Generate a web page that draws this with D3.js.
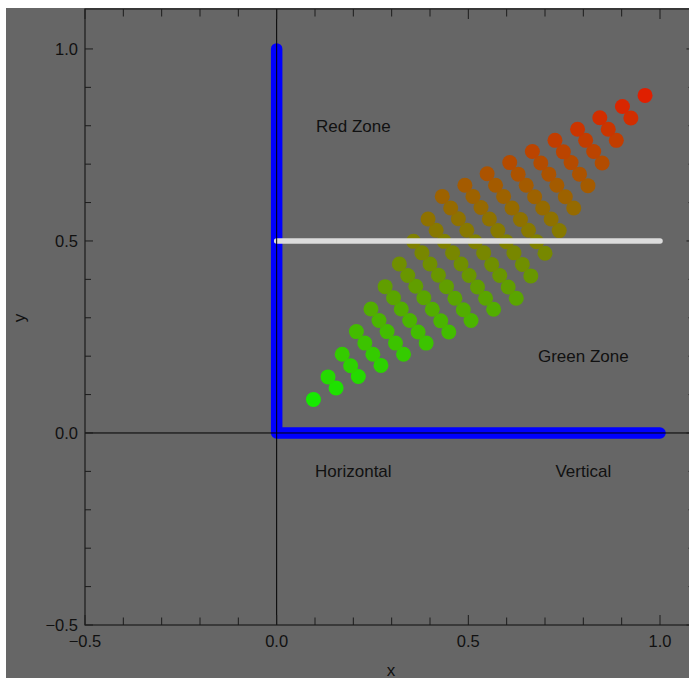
<!DOCTYPE html>
<html>
<head>
<meta charset="utf-8">
<script src="https://cdn.jsdelivr.net/npm/d3@7"></script>
<style>
  html, body { margin: 0; padding: 0; background: #ffffff; }
  svg { display: block; }
  text { font-family: "Liberation Sans", Arial, sans-serif; }
</style>
</head>
<body>
<svg id="chart" width="689" height="679"></svg>
<script>
// ---- data ----
const pointX = [
  0.096, 0.155, 0.213, 0.272, 0.331, 0.390, 0.449, 0.507, 0.566, 0.625,
  0.134, 0.193, 0.251, 0.310, 0.369, 0.428, 0.487, 0.545, 0.604, 0.663,
  0.171, 0.230, 0.288, 0.347, 0.406, 0.465, 0.524, 0.582, 0.641, 0.700,
  0.208, 0.267, 0.325, 0.384, 0.443, 0.502, 0.561, 0.619, 0.678, 0.737,
  0.246, 0.305, 0.363, 0.422, 0.481, 0.540, 0.599, 0.657, 0.716, 0.775,
  0.283, 0.342, 0.400, 0.459, 0.518, 0.577, 0.636, 0.694, 0.753, 0.812,
  0.320, 0.379, 0.437, 0.496, 0.555, 0.614, 0.673, 0.731, 0.790, 0.849,
  0.357, 0.416, 0.474, 0.533, 0.592, 0.651, 0.710, 0.768, 0.827, 0.886,
  0.395, 0.454, 0.512, 0.571, 0.630, 0.689, 0.748, 0.806, 0.865, 0.924,
  0.432, 0.491, 0.549, 0.608, 0.667, 0.726, 0.785, 0.843, 0.902, 0.961
];
const pointY = [
  0.087, 0.117, 0.147, 0.176, 0.205, 0.234, 0.263, 0.293, 0.322, 0.351,
  0.146, 0.175, 0.205, 0.234, 0.263, 0.292, 0.321, 0.351, 0.380, 0.409,
  0.205, 0.234, 0.264, 0.293, 0.322, 0.351, 0.380, 0.410, 0.439, 0.468,
  0.264, 0.293, 0.323, 0.352, 0.381, 0.410, 0.439, 0.469, 0.498, 0.527,
  0.323, 0.352, 0.382, 0.411, 0.440, 0.469, 0.498, 0.528, 0.557, 0.586,
  0.381, 0.410, 0.440, 0.469, 0.498, 0.527, 0.556, 0.586, 0.615, 0.644,
  0.440, 0.469, 0.499, 0.528, 0.557, 0.586, 0.615, 0.645, 0.674, 0.703,
  0.499, 0.528, 0.558, 0.587, 0.616, 0.645, 0.674, 0.704, 0.733, 0.762,
  0.557, 0.586, 0.616, 0.645, 0.674, 0.703, 0.732, 0.762, 0.791, 0.820,
  0.616, 0.645, 0.675, 0.704, 0.733, 0.762, 0.791, 0.821, 0.850, 0.879
];
const blueLineX = [0, 0, 1];
const blueLineY = [1, 0, 0];
const whiteLineX = [0, 1];
const whiteLineY = [0.5, 0.5];
const labelText = ["Red Zone", "Green Zone", "Horizontal", "Vertical"];
const labelX = [0.2, 0.8, 0.2, 0.8];
const labelY = [0.8, 0.2, -0.1, -0.1];
const xMajorTicks = [-0.5, 0, 0.5, 1.0];
const xMajorLabels = ["\u22120.5", "0.0", "0.5", "1.0"];
const yMajorTicks = [-0.5, 0, 0.5, 1.0];
const yMajorLabels = ["\u22120.5", "0.0", "0.5", "1.0"];
const minorTicks = [-0.4, -0.3, -0.2, -0.1, 0.1, 0.2, 0.3, 0.4, 0.6, 0.7, 0.8, 0.9];
const xAxisTitle = "x";
const yAxisTitle = "y";

// ---- layout ----
const svg = d3.select("#chart");
const pLeft = 85, pBottom = 625, pTop = 9, pRight = 694.5;
const x = d3.scaleLinear().domain([-0.5, 1.09]).range([pLeft, pRight]);
const y = d3.scaleLinear().domain([-0.5, 1.104]).range([pBottom, pTop]);
const color = d3.scaleLinear().domain([0, 1]).range(["#00ff00", "#ff0000"]).interpolate(d3.interpolateRgb);

// background panel
svg.append("rect").attr("x", 6).attr("y", 8).attr("width", 683).attr("height", 670).attr("fill", "#666666");

svg.append("defs").append("clipPath").attr("id", "plotclip")
  .append("rect").attr("x", pLeft).attr("y", pTop).attr("width", pRight - pLeft).attr("height", pBottom - pTop);

const plot = svg.append("g").attr("clip-path", "url(#plotclip)");

// blue L line
const line = d3.line().x(d => x(d[0])).y(d => y(d[1]));
plot.append("path")
  .attr("d", line(blueLineX.map((v, i) => [v, blueLineY[i]])))
  .attr("fill", "none").attr("stroke", "#0000ff").attr("stroke-width", 11.5)
  .attr("stroke-linecap", "round").attr("stroke-linejoin", "round");

// points
const pts = pointX.map((v, i) => ({ x: v, y: pointY[i] }));
plot.append("g").selectAll("circle").data(pts).join("circle")
  .attr("cx", d => x(d.x)).attr("cy", d => y(d.y)).attr("r", 7.5)
  .attr("fill", d => color(d.y));

// white line
plot.append("path")
  .attr("d", line(whiteLineX.map((v, i) => [v, whiteLineY[i]])))
  .attr("fill", "none").attr("stroke", "#dcdcdc").attr("stroke-width", 5.5)
  .attr("stroke-linecap", "round");

// axes through origin
plot.append("line").attr("x1", pLeft).attr("x2", pRight).attr("y1", y(0)).attr("y2", y(0))
  .attr("stroke", "#000").attr("stroke-width", 1);
plot.append("line").attr("x1", x(0)).attr("x2", x(0)).attr("y1", pTop).attr("y2", pBottom)
  .attr("stroke", "#000").attr("stroke-width", 1);

// frame
const frameColor = "#1c1c1c";
svg.append("rect").attr("x", pLeft).attr("y", pTop).attr("width", pRight - pLeft).attr("height", pBottom - pTop)
  .attr("fill", "none").attr("stroke", frameColor).attr("stroke-width", 1.2);

const tg = svg.append("g").attr("stroke", frameColor).attr("stroke-width", 1);
xMajorTicks.forEach(t => {
  tg.append("line").attr("x1", x(t)).attr("x2", x(t)).attr("y1", pBottom).attr("y2", pBottom - 10);
  tg.append("line").attr("x1", x(t)).attr("x2", x(t)).attr("y1", pTop).attr("y2", pTop + 10);
});
minorTicks.forEach(t => {
  tg.append("line").attr("x1", x(t)).attr("x2", x(t)).attr("y1", pBottom).attr("y2", pBottom - 7.5);
  tg.append("line").attr("x1", x(t)).attr("x2", x(t)).attr("y1", pTop).attr("y2", pTop + 7.5);
});
yMajorTicks.forEach(t => {
  tg.append("line").attr("x1", pLeft).attr("x2", pLeft + 8).attr("y1", y(t)).attr("y2", y(t));
  tg.append("line").attr("x1", pRight).attr("x2", pRight - 8).attr("y1", y(t)).attr("y2", y(t));
});
minorTicks.forEach(t => {
  tg.append("line").attr("x1", pLeft).attr("x2", pLeft + 6).attr("y1", y(t)).attr("y2", y(t));
  tg.append("line").attr("x1", pRight).attr("x2", pRight - 6).attr("y1", y(t)).attr("y2", y(t));
});

// tick labels
const textColor = "#111111";
xMajorTicks.forEach((t, i) => {
  svg.append("text").attr("x", x(t)).attr("y", 646.5).attr("text-anchor", "middle")
    .attr("font-size", 16.5).attr("fill", textColor).text(xMajorLabels[i]);
});
yMajorTicks.forEach((t, i) => {
  svg.append("text").attr("x", 78).attr("y", y(t) + 6).attr("text-anchor", "end")
    .attr("font-size", 16.5).attr("fill", textColor).text(yMajorLabels[i]);
});

// zone labels
labelText.forEach((s, i) => {
  svg.append("text").attr("x", x(labelX[i])).attr("y", y(labelY[i]) + 6).attr("text-anchor", "middle")
    .attr("font-size", 17).attr("fill", textColor).text(s);
});

// axis titles
svg.append("text").attr("x", 391).attr("y", 676).attr("text-anchor", "middle")
  .attr("font-size", 17).attr("fill", textColor).text(xAxisTitle);
svg.append("text").attr("transform", "translate(25,318) rotate(-90)").attr("text-anchor", "middle")
  .attr("font-size", 17).attr("fill", textColor).text(yAxisTitle);
</script>
</body>
</html>
